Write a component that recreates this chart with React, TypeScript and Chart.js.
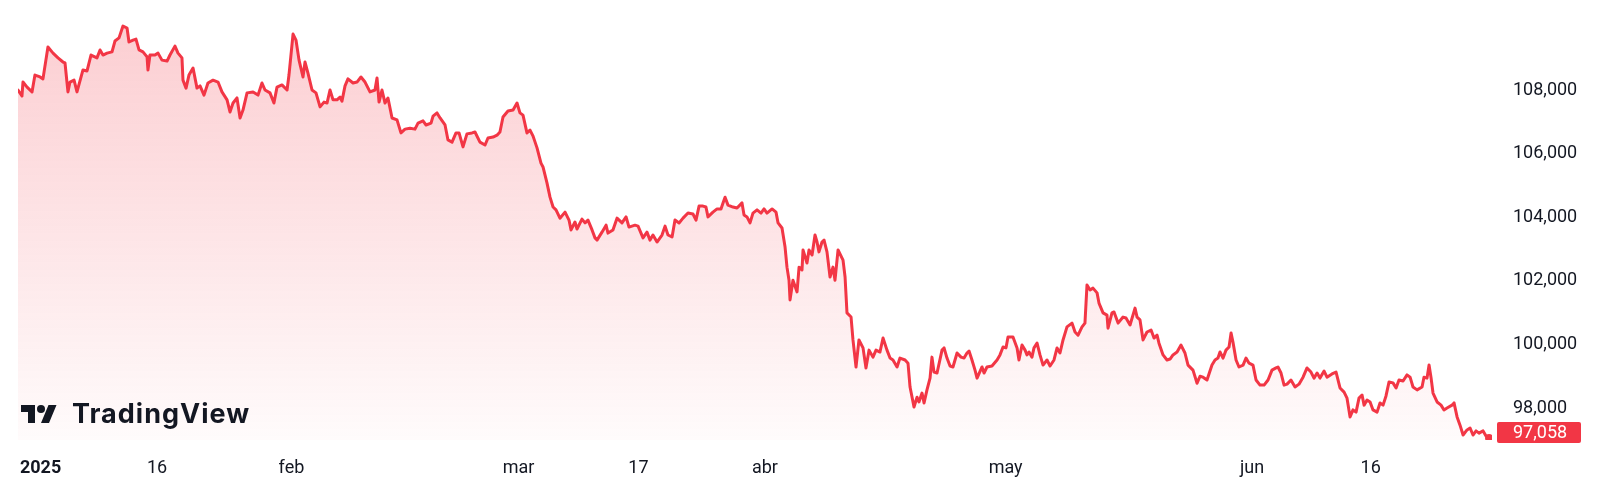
import React, { useEffect, useRef } from "react";
import { Chart, registerables } from "chart.js";

Chart.register(...registerables);

// time axis: trading days since the first sample
const times: number[] = [
  0, 0.35, 0.44, 0.8, 1.24, 1.5, 1.95, 2.21, 2.65, 3.1,
  3.54, 3.98, 4.16, 4.42, 4.6, 4.96, 5.22, 5.75, 6.11, 6.46,
  6.99, 7.26, 7.52, 7.88, 8.32, 8.58, 8.94, 9.29, 9.65, 9.82,
  10.18, 10.44, 10.71, 11.06, 11.42, 11.5, 11.68, 12.12, 12.39, 12.74,
  13.19, 13.45, 13.89, 14.16, 14.51, 14.6, 14.87, 15.13, 15.49, 15.84,
  16.11, 16.46, 16.81, 17.26, 17.7, 18.05, 18.5, 18.76, 19.03, 19.38,
  19.65, 19.91, 20.27, 20.8, 21.24, 21.59, 21.86, 22.3, 22.65, 22.92,
  23.36, 23.81, 23.98, 24.34, 24.6, 24.87, 25.22, 25.4, 25.66, 26.02,
  26.37, 26.73, 27.08, 27.35, 27.61, 27.88, 28.23, 28.5, 28.67, 28.94,
  29.2, 29.65, 30, 30.35, 30.71, 31.15, 31.59, 31.77, 31.95, 32.21,
  32.48, 32.74, 33.1, 33.54, 33.89, 34.25, 34.69, 35.13, 35.4, 35.84,
  36.11, 36.55, 36.73, 37.08, 37.35, 37.79, 38.05, 38.41, 38.76, 39.03,
  39.38, 39.73, 40.18, 40.44, 40.88, 41.33, 41.59, 42.04, 42.39, 42.65,
  42.92, 43.36, 43.81, 44.16, 44.42, 44.69, 45.04, 45.31, 45.58, 45.93,
  46.28, 46.46, 46.81, 47.08, 47.35, 47.61, 47.96, 48.41, 48.76, 48.94,
  49.29, 49.47, 49.91, 50.18, 50.44, 50.8, 51.06, 51.24, 51.68, 52.04,
  52.21, 52.65, 53.01, 53.45, 53.81, 54.07, 54.6, 54.87, 55.31, 55.66,
  55.93, 56.19, 56.55, 56.99, 57.26, 57.52, 57.88, 58.14, 58.5, 58.85,
  59.29, 59.73, 60, 60.27, 60.62, 60.88, 61.06, 61.5, 61.86, 62.21,
  62.39, 62.57, 62.83, 63.27, 63.63, 64.07, 64.25, 64.51, 64.78, 65.04,
  65.4, 65.75, 66.02, 66.28, 66.73, 67.08, 67.26, 67.61, 67.88, 68.05,
  68.23, 68.32, 68.58, 68.94, 69.12, 69.38, 69.47, 69.82, 70, 70.27,
  70.53, 70.71, 70.88, 71.15, 71.33, 71.59, 71.86, 72.12, 72.3, 72.57,
  73.01, 73.19, 73.36, 73.72, 73.89, 74.16, 74.42, 74.78, 75.04, 75.31,
  75.66, 75.93, 76.28, 76.55, 76.9, 77.17, 77.43, 77.79, 78.05, 78.5,
  78.76, 78.94, 79.12, 79.29, 79.56, 79.73, 80, 80.18, 80.44, 80.71,
  80.88, 81.06, 81.33, 81.77, 81.95, 82.21, 82.48, 82.74, 83.1, 83.45,
  83.72, 83.98, 84.16, 84.42, 84.69, 84.87, 85.31, 85.49, 85.75, 86.19,
  86.64, 86.9, 87.17, 87.43, 87.61, 88.05, 88.41, 88.58, 88.85, 89.12,
  89.29, 89.47, 89.73, 89.91, 90.18, 90.44, 90.71, 91.06, 91.33, 91.68,
  91.95, 92.21, 92.48, 92.83, 93.27, 93.54, 93.81, 94.16, 94.42, 94.6,
  94.87, 95.13, 95.49, 95.66, 96.02, 96.37, 96.46, 96.81, 96.99, 97.35,
  97.79, 98.05, 98.41, 98.85, 99.03, 99.29, 99.56, 99.91, 100.27, 100.53,
  100.8, 100.97, 101.33, 101.68, 101.95, 102.21, 102.57, 102.92, 103.27, 103.54,
  103.98, 104.34, 104.6, 104.87, 105.22, 105.66, 105.93, 106.19, 106.37, 106.64,
  106.9, 107.17, 107.35, 107.52, 107.79, 108.05, 108.41, 108.67, 108.94, 109.29,
  109.56, 109.91, 110.27, 110.62, 110.97, 111.33, 111.5, 111.77, 112.04, 112.3,
  112.65, 113.01, 113.36, 113.72, 114.07, 114.42, 114.69, 114.96, 115.22, 115.58,
  115.84, 116.28, 116.64, 116.99, 117.35, 117.61, 117.88, 118.14, 118.41, 118.67,
  118.94, 119.12, 119.38, 119.65, 119.91, 120.27, 120.53, 120.8, 121.06, 121.33,
  121.68, 121.95, 122.21, 122.57, 122.92, 123.19, 123.45, 123.81, 124.25, 124.42,
  124.69, 124.87, 125.04, 125.22, 125.58, 125.93, 126.19, 126.46, 126.9, 127.08,
  127.35, 127.61, 127.88, 128.23, 128.5, 128.76, 129.03, 129.29, 129.65, 129.91, 130.18,
];

const prices: number[] = [
  108000, 107810, 108250, 108090, 107940, 108470, 108410, 108350, 109350, 109160,
  109010, 108880, 108850, 107940, 108250, 108310, 107940, 108630, 108600, 109100,
  109010, 109260, 109100, 109160, 109200, 109540, 109640, 110010, 109950, 109510,
  109570, 109600, 109260, 109200, 109040, 108630, 109100, 109100, 109160, 108940,
  108910, 109100, 109380, 109160, 109010, 108310, 108060, 108470, 108690, 108060,
  108130, 107840, 108220, 108310, 108250, 107940, 107690, 107310, 107590, 107750,
  107120, 107370, 107910, 107940, 107840, 108220, 108000, 107910, 107590, 108090,
  108160, 108000, 108470, 109760, 109570, 108940, 108410, 108880, 108530, 108000,
  107910, 107470, 107620, 107590, 108000, 107690, 107690, 107780, 107650, 108130,
  108350, 108220, 108250, 108410, 108250, 107940, 108000, 108380, 107620, 108000,
  107590, 107750, 107120, 107060, 106650, 106770, 106800, 106770, 106960, 107030,
  106900, 106960, 107180, 107280, 107120, 106900, 106430, 106360, 106650, 106650,
  106210, 106620, 106650, 106680, 106360, 106270, 106490, 106520, 106580, 106680,
  107150, 107340, 107370, 107590, 107280, 107210, 106650, 106740, 106550, 106180,
  105700, 105580, 105080, 104630, 104320, 104230, 103970, 104160, 103910, 103600,
  103850, 103630, 103940, 103820, 103910, 103600, 103350, 103280, 103530, 103750,
  103500, 103600, 103970, 103820, 104010, 103690, 103750, 103720, 103350, 103530,
  103280, 103440, 103220, 103440, 103720, 103440, 103380, 103910, 103820, 103970,
  104130, 104100, 103910, 104350, 104350, 104320, 104010, 104160, 104260, 104260,
  104450, 104630, 104380, 104320, 104290, 104450, 104070, 104010, 103820, 104130,
  104230, 104130, 104260, 104130, 104260, 104160, 103820, 103660, 103060, 102430,
  102020, 101400, 102020, 101650, 102430, 102340, 102970, 102560, 102970, 102810,
  103440, 103220, 102910, 103220, 103280, 102910, 102120, 102430, 102020, 102970,
  102650, 102120, 100990, 100860, 100140, 99290, 100140, 99890, 99260, 99820,
  99600, 99820, 99760, 100200, 99820, 99570, 99510, 99290, 99570, 99510,
  99410, 98660, 98340, 98030, 98340, 98190, 98470, 98160, 98570, 98940,
  99600, 99130, 99100, 99820, 99890, 99570, 99320, 99290, 99730, 99600,
  99570, 99730, 99790, 99510, 99190, 98940, 99290, 99100, 99290, 99320,
  99510, 99670, 99920, 99890, 100230, 100230, 99890, 99510, 99980, 99820,
  99670, 99760, 99600, 99890, 100040, 99670, 99350, 99510, 99320, 99510,
  99890, 99730, 100140, 100550, 100670, 100390, 100290, 100550, 100670, 101870,
  101710, 101770, 101620, 101300, 100990, 100920, 100510, 100990, 101020, 100670,
  100860, 100830, 100610, 101140, 100860, 100770, 100140, 100390, 100450, 100200,
  100290, 100040, 99670, 99510, 99540, 99670, 99760, 99980, 99730, 99350,
  99190, 98780, 99000, 98970, 98880, 99350, 99510, 99570, 99760, 99570,
  99820, 99920, 100360, 100070, 99510, 99290, 99350, 99570, 99410, 99350,
  98880, 98720, 98720, 98880, 99190, 99260, 99290, 99100, 98720, 98750,
  98880, 98660, 98750, 98970, 99260, 99130, 98940, 99100, 98940, 99160,
  98970, 99070, 99130, 98630, 98500, 98310, 97720, 97940, 97870, 98310,
  98410, 98090, 98250, 98190, 97940, 97870, 98160, 98090, 98380, 98820,
  98790, 98630, 98880, 98850, 99040, 98970, 98660, 98570, 98660, 98970,
  98940, 99350, 98970, 98470, 98190, 98090, 97940, 98000, 98090, 98160,
  97720, 97460, 97150, 97310, 97370, 97150, 97280, 97210, 97280, 97120, 97058,
];

const yTicks: number[] = [98000, 100000, 102000, 104000, 106000, 108000];
const xTickTimes: number[] = [2.0, 12.3, 24.2, 44.3, 54.9, 66.1, 87.4, 109.2, 119.7];
const xTickLabels: string[] = ["2025", "16", "feb", "mar", "17", "abr", "may", "jun", "16"];

const X_MIN = 0;
const X_MAX = 130.44;
const Y_MIN = 96994;
const Y_MAX = 110453;

const RED = "#F23645";
const TEXT = "#131722";
const FONT = "Roboto, 'Noto Sans', sans-serif";

const overlayPlugin = {
  id: "tvOverlay",
  afterDraw(chart: any) {
    const { ctx, chartArea, scales } = chart;
    const last = prices[prices.length - 1];
    const py = scales.y.getPixelForValue(last);
    const h = 21;
    const cy = Math.min(py, chartArea.bottom + 3 - h / 2);
    const bx = chartArea.right + 5;
    const bw = 84;
    ctx.save();
    ctx.fillStyle = RED;
    ctx.beginPath();
    if (ctx.roundRect) ctx.roundRect(bx, cy - h / 2, bw, h, 2);
    else ctx.rect(bx, cy - h / 2, bw, h);
    ctx.fill();
    ctx.fillStyle = "#ffffff";
    ctx.font = `18px ${FONT}`;
    ctx.textBaseline = "middle";
    ctx.textAlign = "left";
    ctx.fillText(last.toLocaleString("en-US"), chartArea.right + 21, cy + 1);
    ctx.restore();

    // TradingView logo
    const s = 1.0;
    const ox = chartArea.left + 3;
    const oy = chartArea.bottom - 35 - 4 * s;
    ctx.save();
    ctx.translate(ox, oy);
    ctx.scale(s, s);
    ctx.fillStyle = TEXT;
    ctx.fill(new Path2D("M14 22H7V11H0V4h14v18zM28 22h-8l7.5-18h8L28 22z"));
    ctx.beginPath();
    ctx.arc(20, 8, 4, 0, Math.PI * 2);
    ctx.fill();
    ctx.restore();
    ctx.save();
    ctx.fillStyle = TEXT;
    ctx.font = `700 27px Inter, ${FONT}`;
    try {
      (ctx as any).letterSpacing = "1px";
    } catch (e) {}
    ctx.textBaseline = "alphabetic";
    ctx.textAlign = "left";
    ctx.fillText("TradingView", chartArea.left + 54, chartArea.bottom - 17);
    ctx.restore();
  },
};

export default function App() {
  const canvasRef = useRef<HTMLCanvasElement | null>(null);

  useEffect(() => {
    const canvas = canvasRef.current;
    if (!canvas) return;
    const n = Math.min(times.length, prices.length);
    const points = [];
    for (let i = 0; i < n; i++) points.push({ x: times[i], y: prices[i] });
    const lastIndex = n - 1;

    const chart = new Chart(canvas, {
      type: "line",
      data: {
        datasets: [
          {
            data: points,
            borderColor: RED,
            borderWidth: 3,
            borderJoinStyle: "round",
            borderCapStyle: "round",
            tension: 0,
            fill: "start",
            backgroundColor: (ctx: any) => {
              const { chart: c } = ctx;
              const area = c.chartArea;
              if (!area) return "rgba(242,54,69,0.1)";
              const g = c.ctx.createLinearGradient(0, area.top, 0, area.bottom);
              g.addColorStop(0, "rgba(242,54,69,0.25)");
              g.addColorStop(1, "rgba(242,54,69,0.02)");
              return g;
            },
            pointRadius: (ctx: any) => (ctx.dataIndex === lastIndex ? 4 : 0),
            pointBackgroundColor: RED,
            pointBorderWidth: 0,
            pointHoverRadius: 0,
          } as any,
        ],
      },
      options: {
        animation: false,
        responsive: false,
        devicePixelRatio: 1,
        events: [],
        layout: { padding: { left: 18, top: 12, right: 0, bottom: 0 } },
        plugins: {
          legend: { display: false },
          tooltip: { enabled: false },
        },
        scales: {
          x: {
            type: "linear",
            min: X_MIN,
            max: X_MAX,
            border: { display: false },
            grid: { display: false, drawTicks: false },
            afterBuildTicks: (scale: any) => {
              scale.ticks = xTickTimes.map((v) => ({ value: v }));
            },
            afterFit: (scale: any) => {
              scale.height = 50;
            },
            ticks: {
              autoSkip: false,
              maxRotation: 0,
              minRotation: 0,
              padding: 18,
              color: TEXT,
              font: (ctx: any) => ({
                family: FONT,
                size: 18,
                weight: ctx.index === 0 ? "bold" : "normal",
              }),
              callback: (_v: any, i: number) => xTickLabels[i],
            },
          },
          y: {
            type: "linear",
            position: "right",
            min: Y_MIN,
            max: Y_MAX,
            border: { display: false },
            grid: { display: false, drawTicks: false },
            afterBuildTicks: (scale: any) => {
              scale.ticks = yTicks.map((v) => ({ value: v }));
            },
            afterFit: (scale: any) => {
              scale.width = 108;
              scale.paddingTop = 0;
              scale.paddingBottom = 0;
            },
            ticks: {
              padding: 21,
              color: TEXT,
              font: { family: FONT, size: 18 },
              callback: (v: any) => Number(v).toLocaleString("en-US"),
            },
          },
        },
      } as any,
      plugins: [overlayPlugin],
    });
    return () => chart.destroy();
  }, []);

  return (
    <div style={{ position: "fixed", left: 0, top: 0, width: 1600, height: 490, background: "#ffffff" }}>
      <canvas ref={canvasRef} width={1600} height={490} style={{ display: "block" }} />
    </div>
  );
}
